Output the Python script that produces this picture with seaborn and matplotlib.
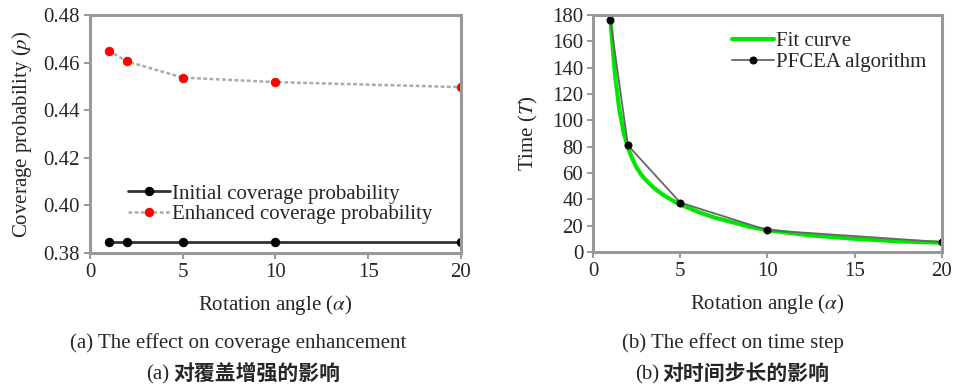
import numpy as np
import pandas as pd
import seaborn as sns
import matplotlib.pyplot as plt

# data
angles = [1, 2, 5, 10, 20]
initial_cov = [0.3847, 0.3847, 0.3847, 0.3847, 0.3847]
enhanced_cov = [0.465, 0.4605, 0.4537, 0.4518, 0.4497]

pfcea_time = [176, 81, 37.5, 16.5, 7.5]
fit_x = [1, 1.25, 1.5, 1.75, 2, 2.25, 2.5, 2.75, 3, 3.5, 4, 4.5, 5, 6, 7, 8, 9, 10,
         12.5, 15, 17.5, 20]
fit_t = [176, 136, 109, 91, 79, 71, 64, 59, 55, 48.5, 43.5, 39.5, 36, 30.5, 26, 22.5,
         19, 16.5, 12.5, 10, 8, 7]

sns.set_style("white")
plt.rcParams['font.family'] = ['Liberation Serif', 'DejaVu Serif']
plt.rcParams['mathtext.fontset'] = 'stix'

fig = plt.figure(figsize=(9.56, 3.84), dpi=100)
ax1 = fig.add_axes([0.0941, 0.341, 0.388, 0.620])
ax2 = fig.add_axes([0.6203, 0.344, 0.365, 0.617])

cov_df = pd.DataFrame({'angle': angles, 'initial': initial_cov, 'enhanced': enhanced_cov})
sns.lineplot(data=cov_df, x='angle', y='initial', ax=ax1, color='#333333', lw=2,
             marker='o', markersize=6, markerfacecolor='black', markeredgecolor='black',
             label='Initial coverage probability')
sns.lineplot(data=cov_df, x='angle', y='enhanced', ax=ax1, color='#aaaaaa', lw=1.8,
             linestyle=(0, (1.5, 1)), marker='o', markersize=6,
             markerfacecolor='red', markeredgecolor='red',
             label='Enhanced coverage probability')

fit_df = pd.DataFrame({'angle': fit_x, 'time': fit_t})
alg_df = pd.DataFrame({'angle': angles, 'time': pfcea_time})
sns.lineplot(data=fit_df, x='angle', y='time', ax=ax2, color='#00e600', lw=3,
             label='Fit curve')
sns.lineplot(data=alg_df, x='angle', y='time', ax=ax2, color='#666666', lw=1.3,
             marker='o', markersize=5, markerfacecolor='black', markeredgecolor='black',
             label='PFCEA algorithm')

fs = 15

ax1.set_xlim(0, 20)
ax1.set_ylim(0.38, 0.48)
ax1.set_xticks([0, 5, 10, 15, 20])
ax1.set_yticks([0.38, 0.40, 0.42, 0.44, 0.46, 0.48])
ax1.set_yticklabels(['0.38', '0.40', '0.42', '0.44', '0.46', '0.48'])
ax1.set_xlabel(r'Rotation angle ($\alpha$)', fontsize=fs, labelpad=8)
ax1.set_ylabel(r'Coverage probability ($p$)', fontsize=fs, labelpad=7)

ax2.set_xlim(0, 20)
ax2.set_ylim(0, 180)
ax2.set_xticks([0, 5, 10, 15, 20])
ax2.set_yticks(range(0, 181, 20))
ax2.set_xlabel(r'Rotation angle ($\alpha$)', fontsize=fs, labelpad=8)
ax2.set_ylabel(r'Time ($T$)', fontsize=fs, labelpad=9)

for ax in (ax1, ax2):
    for sp in ax.spines.values():
        sp.set_color('#999999')
        sp.set_linewidth(2.2)
    ax.tick_params(axis='both', direction='out', length=4, width=1.2,
                   color='#888888', labelsize=fs, pad=3, left=True, bottom=True)

leg1 = ax1.legend(loc='upper left', bbox_to_anchor=(0.08, 0.325), frameon=False,
                  fontsize=fs, handlelength=2.0, handletextpad=0.1,
                  labelspacing=0.05, borderaxespad=0)
leg2 = ax2.legend(loc='upper left', bbox_to_anchor=(0.375, 0.965), frameon=False,
                  fontsize=fs, handlelength=2.0, handletextpad=0.1,
                  labelspacing=0.05, borderaxespad=0)

# captions: english line, then "(x)" regular + chinese bold
fig.text(0.2495, 0.095, '(a) The effect on coverage enhancement', ha='center', fontsize=fs)
fig.text(0.1775, 0.012, '(a)', ha='right', fontsize=fs)
fig.text(0.181, 0.012, '对覆盖增强的影响', ha='left', fontsize=fs,
         family='Noto Sans CJK SC', fontweight='semibold')
fig.text(0.7664, 0.095, '(b) The effect on time step', ha='center', fontsize=fs)
fig.text(0.6895, 0.012, '(b)', ha='right', fontsize=fs)
fig.text(0.693, 0.012, '对时间步长的影响', ha='left', fontsize=fs,
         family='Noto Sans CJK SC', fontweight='semibold')

fig.savefig('out.png', dpi=100)
